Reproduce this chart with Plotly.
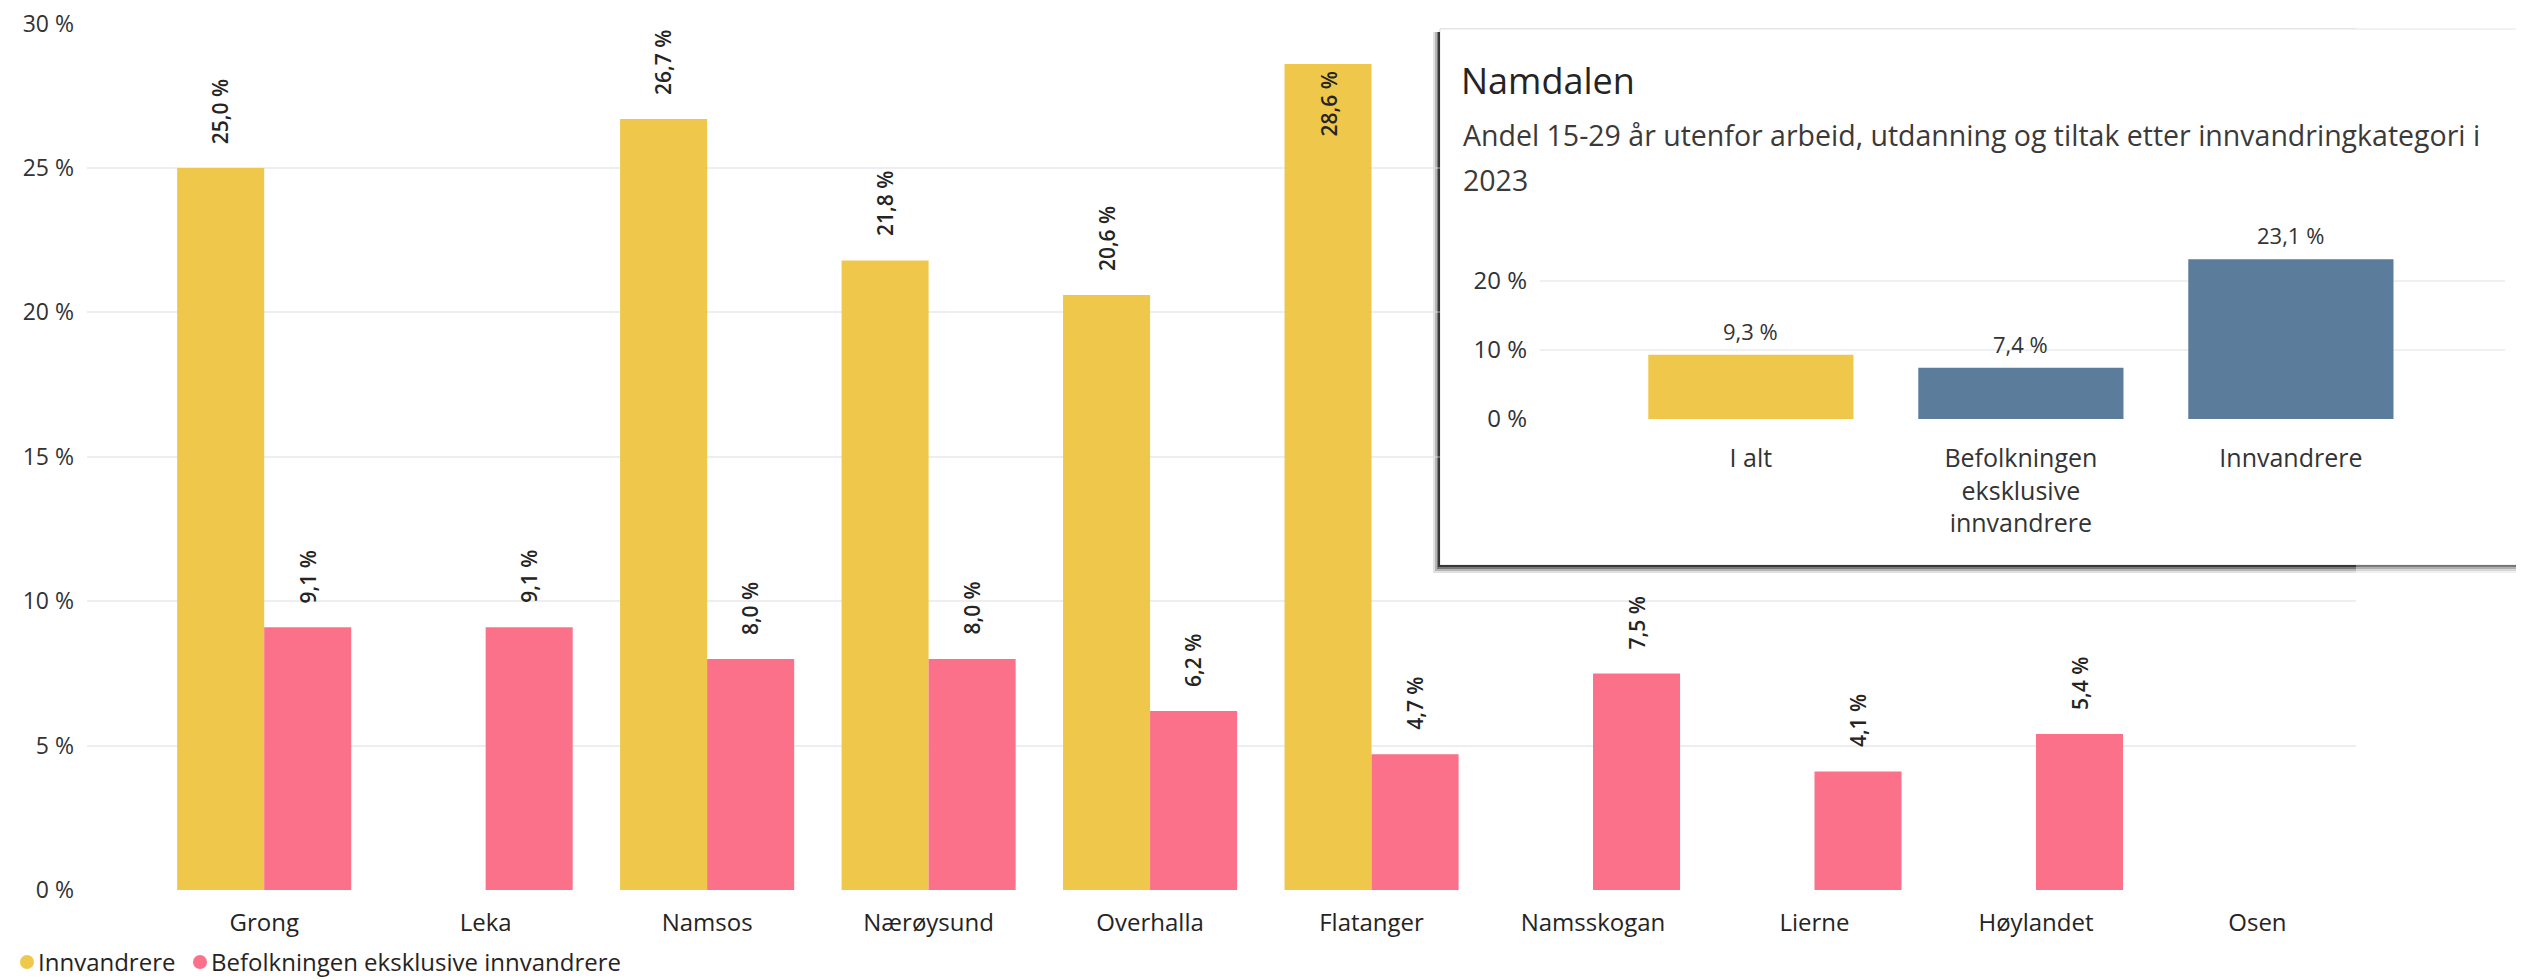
import plotly.graph_objects as go

# ---------------- data ----------------
municipalities = ["Grong", "Leka", "Namsos", "Nærøysund", "Overhalla",
                  "Flatanger", "Namsskogan", "Lierne", "Høylandet", "Osen"]
innvandrere = [25.0, None, 26.7, 21.8, 20.6, 28.6, None, None, None, None]
befolkning_ekskl = [9.1, 9.1, 8.0, 8.0, 6.2, 4.7, 7.5, 4.1, 5.4, None]
series_names = ["Innvandrere", "Befolkningen eksklusive innvandrere"]

inset_title = "Namdalen"
inset_subtitle_1 = "Andel 15-29 år utenfor arbeid, utdanning og tiltak etter innvandringkategori i"
inset_subtitle_2 = "2023"
inset_categories = ["I alt", "Befolkningen<br>eksklusive<br>innvandrere", "Innvandrere"]
inset_values = [9.3, 7.4, 23.1]

# ---------------- style ----------------
SCREEN_W, SCREEN_H = 2524, 980
OFF = 8  # default page body margin
W, H = SCREEN_W - OFF, SCREEN_H - OFF

YELLOW = "#EFC84B"
PINK = "#FA7189"
BLUE = "#5B7C9B"
GRID = "#ECEEF1"
TXT = "#252423"
TICK = "#333333"
FONT = "Open Sans, Segoe UI, sans-serif"


def px(x):  # screen x -> paper fraction
    return (x - OFF) / W


def py(y):  # screen y -> paper fraction
    return 1 - (y - OFF) / H


# main plot area (screen pixels)
MX0, MX1, MY_TOP, MY_BOT = 87, 2356, 23, 890
# inset plot area (screen pixels)
IX0, IX1, IY_TOP, IY_BOT = 1540, 2505, 246, 419
# inset card (screen pixels)
BOX_L, BOX_R, BOX_T, BOX_B = 1440, 2560, 29, 565

BARGAP = 0.214
Y_MAX = 30.02
X_RANGE = [-0.80, 9.445]


def fmt(v):
    return f"{v:.1f}".replace(".", ",") + " %"


fig = go.Figure()

# main bars
for vals, color, name in [(innvandrere, YELLOW, series_names[0]),
                          (befolkning_ekskl, PINK, series_names[1])]:
    fig.add_trace(go.Bar(x=municipalities, y=vals, name=name,
                         marker=dict(color=color, line=dict(width=0)),
                         showlegend=False, xaxis="x", yaxis="y",
                         hoverinfo="x+y"))

# inset bars
fig.add_trace(go.Bar(x=inset_categories, y=inset_values, width=0.76,
                     marker=dict(color=[YELLOW, BLUE, BLUE], line=dict(width=0)),
                     showlegend=False, xaxis="x2", yaxis="y2"))

annotations = []
# value labels main chart
half = (1 - BARGAP) / 4
for s, vals in enumerate([innvandrere, befolkning_ekskl]):
    off = -half if s == 0 else half
    for i, v in enumerate(vals):
        if v is None:
            continue
        outside = v + 3.0 <= 30
        annotations.append(dict(
            x=i + off, y=v, xref="x", yref="y", text=fmt(v), showarrow=False,
            textangle=-90, yanchor="bottom" if outside else "top",
            yshift=22 if outside else -6,
            font=dict(family=FONT, size=21, color=TXT, weight=600)))

# value labels inset
for cat, v in zip(inset_categories, inset_values):
    annotations.append(dict(
        x=cat, y=v, xref="x2", yref="y2", text=fmt(v), showarrow=False,
        yanchor="middle", yshift=24,
        font=dict(family=FONT, size=22, color="#333333")))

# inset title/subtitle
annotations.append(dict(x=px(1459), y=py(80), xref="paper", yref="paper",
                        text=inset_title, showarrow=False, xanchor="left",
                        yanchor="middle", font=dict(family=FONT, size=36, color=TXT)))
annotations.append(dict(x=px(1461), y=py(135), xref="paper", yref="paper",
                        text=inset_subtitle_1, showarrow=False, xanchor="left",
                        yanchor="middle", font=dict(family=FONT, size=28.5, color="#3b3a39")))
annotations.append(dict(x=px(1461), y=py(180), xref="paper", yref="paper",
                        text=inset_subtitle_2, showarrow=False, xanchor="left",
                        yanchor="middle", font=dict(family=FONT, size=28.5, color="#3b3a39")))

shapes = []

# ---- manual legend (circles + text) ----
legend_items = [(YELLOW, series_names[0], 27, 36), (PINK, series_names[1], 200, 209)]
LEG_Y = 961
for color, name, cx, tx in legend_items:
    shapes.append(dict(type="circle", xref="paper", yref="paper", layer="above",
                       x0=px(cx - 7), x1=px(cx + 7), y0=py(LEG_Y + 8), y1=py(LEG_Y - 6),
                       fillcolor=color, line=dict(width=0)))
    annotations.append(dict(x=px(tx), y=py(LEG_Y), xref="paper", yref="paper",
                            text=name, showarrow=False, xanchor="left", yanchor="middle",
                            font=dict(family=FONT, size=24, color=TXT)))

# ---- inset card with shadow ----
ppc = (MX1 - MX0) / (X_RANGE[1] - X_RANGE[0])
ppu = (MY_BOT - MY_TOP) / Y_MAX


def dxv(x):  # screen x -> main x data value
    return X_RANGE[0] + (x - MX0) / ppc


def dyv(y):  # screen y -> main y data value
    return (MY_BOT - y) / ppu


card = [(7, 8, "rgba(0,0,0,0.06)"), (5, 6, "rgba(0,0,0,0.10)"),
        (3, 4, "rgba(0,0,0,0.18)"), (2, 2, "rgba(0,0,0,0.30)")]
# paper-level copy (full extent, below everything)
for sx, sy, col in card:
    shapes.append(dict(type="rect", xref="paper", yref="paper", layer="below",
                       x0=px(BOX_L - sx), x1=px(BOX_R), y0=py(BOX_B + sy), y1=py(BOX_T + 3),
                       fillcolor=col, line=dict(width=0)))
shapes.append(dict(type="rect", xref="paper", yref="paper", layer="below",
                   x0=px(BOX_L), x1=px(BOX_R), y0=py(BOX_B), y1=py(BOX_T),
                   fillcolor="white", line=dict(color="rgba(0,0,0,0.10)", width=1)))
# copy above the main gridlines (clipped to main plot area), below main traces
for sx, sy, col in card:
    shapes.append(dict(type="rect", xref="x", yref="y", layer="between",
                       x0=dxv(BOX_L - sx), x1=dxv(BOX_R), y0=dyv(BOX_B + sy), y1=dyv(BOX_T + 3),
                       fillcolor=col, line=dict(width=0)))
shapes.append(dict(type="rect", xref="x", yref="y", layer="between",
                   x0=dxv(BOX_L), x1=dxv(BOX_R), y0=dyv(BOX_B), y1=dyv(BOX_T),
                   fillcolor="white", line=dict(color="rgba(0,0,0,0.10)", width=1)))

fig.update_layout(
    width=W, height=H, autosize=False,
    margin=dict(l=0, r=0, t=0, b=0, autoexpand=False),
    paper_bgcolor="white", plot_bgcolor="rgba(0,0,0,0)",
    barmode="group", bargap=BARGAP, bargroupgap=0,
    font=dict(family=FONT, color=TXT),
    showlegend=False,
    xaxis=dict(domain=[px(MX0), px(MX1)], anchor="y", type="category",
               range=X_RANGE, showgrid=False, zeroline=False, showline=False,
               ticks="", tickfont=dict(family=FONT, size=24, color=TXT),
               ticklabelstandoff=16, fixedrange=True, automargin=False,
               ticklabeloverflow="allow"),
    yaxis=dict(domain=[py(MY_BOT), py(MY_TOP)], anchor="x",
               range=[0, Y_MAX], dtick=5, ticksuffix=" %",
               showgrid=True, gridcolor=GRID, gridwidth=2, zeroline=False, showline=False,
               ticks="", tickfont=dict(family=FONT, size=23, color=TICK),
               ticklabelstandoff=12, fixedrange=True, automargin=False,
               ticklabeloverflow="allow"),
    xaxis2=dict(domain=[px(IX0), px(IX1)], anchor="y2", type="category",
                range=[-0.781, 2.793], showgrid=False, zeroline=False, showline=False,
                ticks="", tickfont=dict(family=FONT, size=25, color="#333333"),
                ticklabelstandoff=22, fixedrange=True, automargin=False,
                ticklabeloverflow="allow"),
    yaxis2=dict(domain=[py(IY_BOT), py(IY_TOP)], anchor="x2",
                range=[0, 25], tickvals=[0, 10, 20], ticktext=["0 %", "10 %", "20 %"],
                showgrid=True, gridcolor="#EEF0F3", gridwidth=1.5, zeroline=False,
                showline=False, ticks="", tickfont=dict(family=FONT, size=24, color="#333333"),
                ticklabelstandoff=12, fixedrange=True, automargin=False,
                ticklabeloverflow="allow"),
    annotations=annotations,
    shapes=shapes,
)

fig.write_html("out.html")
